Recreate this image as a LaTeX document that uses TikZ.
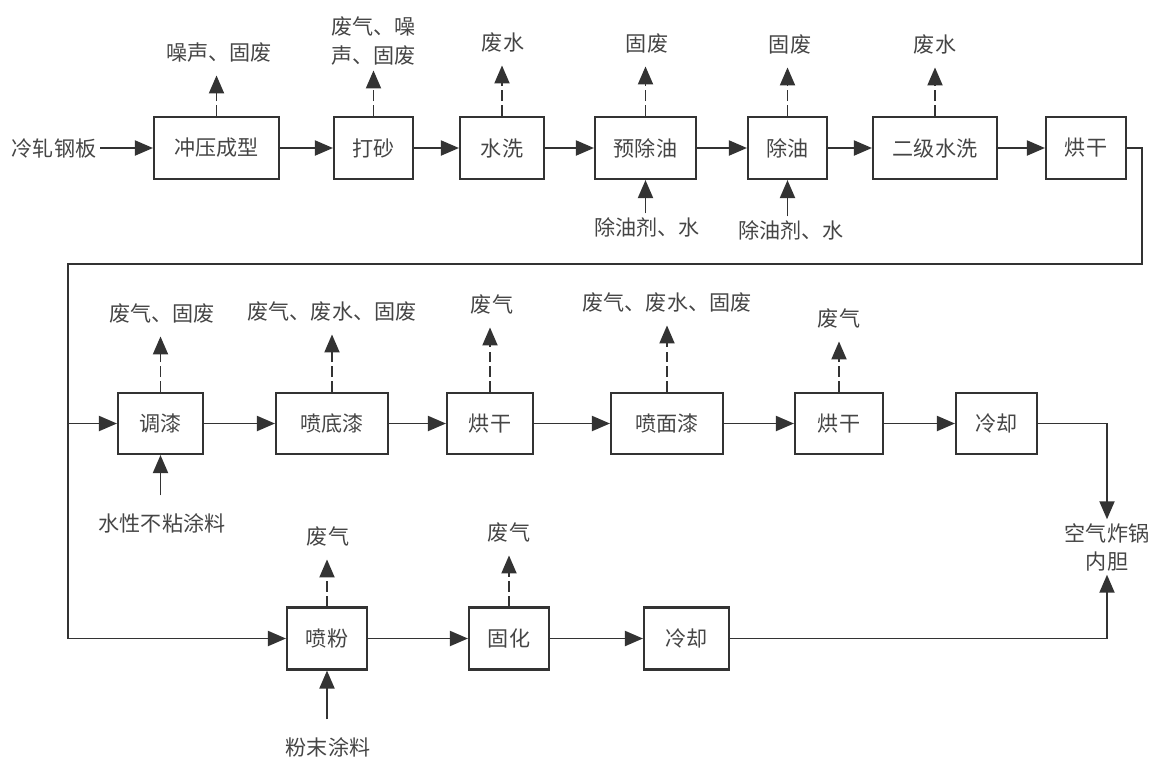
\documentclass[tikz,border=0pt]{standalone}
\usepackage{fontspec}
\setmainfont{Noto Sans CJK SC}
\usetikzlibrary{arrows.meta}
\definecolor{linec}{HTML}{333333}
\definecolor{txtc}{HTML}{454545}

\begin{document}
\begin{tikzpicture}[x=0.02cm,y=-0.02cm,
  font=\fontsize{12pt}{16pt}\selectfont,
  box/.style={draw=linec,line width=1.2pt,text=txtc,inner sep=2pt},
  row1/.style={box,minimum height=1.24cm},
  row2/.style={box,minimum height=1.22cm},
  lbl/.style={text=txtc,inner sep=2pt,align=center},
  flow/.style={draw=linec,line width=1.1pt,-{Triangle[length=0.36cm,width=0.3cm]}},
  waste/.style={flow,dash pattern=on 6pt off 2.5pt,shorten >=5pt},
  pipe/.style={draw=linec,line width=1.1pt}]
\useasboundingbox (0,0) rectangle (1150,758);

% row 1
\node[lbl] (steel) at (54,148) {冷轧钢板};
\node[row1,minimum width=2.5cm] (stamp) at (216.5,148) {冲压成型};
\node[row1,minimum width=1.58cm] (sand) at (373.5,148) {打砂};
\node[row1,minimum width=1.68cm] (wash) at (502,148) {水洗};
\node[row1,minimum width=2.02cm] (predeg) at (645.5,148) {预除油};
\node[row1,minimum width=1.58cm] (degr) at (787.5,148) {除油};
\node[row1,minimum width=2.48cm] (washb) at (935,148) {二级水洗};
\node[row1,minimum width=1.6cm] (dryA) at (1086,148) {烘干};
\draw[flow] (steel) -- (stamp);
\draw[flow] (stamp) -- (sand);
\draw[flow] (sand) -- (wash);
\draw[flow] (wash) -- (predeg);
\draw[flow] (predeg) -- (degr);
\draw[flow] (degr) -- (washb);
\draw[flow] (washb) -- (dryA);

\node[lbl] (stampOut) at (219,53) {噪声、固废};
\node[lbl,align=left] (sandOut) at (373.5,41) {废气、噪\\声、固废};
\node[lbl] (washOut) at (503,43) {废水};
\node[lbl] (predegOut) at (647,44) {固废};
\node[lbl] (degrOut) at (790,45) {固废};
\node[lbl] (washbOut) at (935,45) {废水};
\draw[waste] (stamp.north) -- (stamp.north |- stampOut.south);
\draw[waste,shorten >=1pt] (sand.north) -- (sand.north |- sandOut.south);
\draw[waste] (wash.north) -- (wash.north |- washOut.south);
\draw[waste] (predeg.north) -- (predeg.north |- predegOut.south);
\draw[waste] (degr.north) -- (degr.north |- degrOut.south);
\draw[waste] (washb.north) -- (washb.north |- washbOut.south);

\node[lbl] (predegIn) at (647,227) {除油剂、水};
\node[lbl] (degrIn) at (791,230) {除油剂、水};
\draw[flow] (predegIn.north -| predeg.south) -- (predeg.south);
\draw[flow] (degrIn.north -| degr.south) -- (degr.south);

% return line
\coordinate (rt) at (1142,264);
\coordinate (lt) at (68,264);
\coordinate (lb) at (68,638.5);
\draw[pipe] (dryA.east) -| (rt) -- (lt) -- (lb);

% row 2
\node[row2,minimum width=1.7cm] (mix) at (160.5,423.5) {调漆};
\node[row2,minimum width=2.24cm] (primer) at (332,423.5) {喷底漆};
\node[row2,minimum width=1.72cm] (dryB) at (490,423.5) {烘干};
\node[row2,minimum width=2.24cm] (topcoat) at (667,423.5) {喷面漆};
\node[row2,minimum width=1.76cm] (dryC) at (839,423.5) {烘干};
\node[row2,minimum width=1.62cm] (coolA) at (996.5,423.5) {冷却};
\draw[flow] (lt |- mix) -- (mix);
\draw[flow] (mix) -- (primer);
\draw[flow] (primer) -- (dryB);
\draw[flow] (dryB) -- (topcoat);
\draw[flow] (topcoat) -- (dryC);
\draw[flow] (dryC) -- (coolA);

\node[lbl] (mixOut) at (162,314) {废气、固废};
\node[lbl] (primerOut) at (332,312) {废气、废水、固废};
\node[lbl] (dryBOut) at (492,305) {废气};
\node[lbl] (topcoatOut) at (667,303) {废气、废水、固废};
\node[lbl] (dryCOut) at (839,319) {废气};
\draw[waste] (mix.north) -- (mix.north |- mixOut.south);
\draw[waste] (primer.north) -- (primer.north |- primerOut.south);
\draw[waste] (dryB.north) -- (dryB.north |- dryBOut.south);
\draw[waste] (topcoat.north) -- (topcoat.north |- topcoatOut.south);
\draw[waste] (dryC.north) -- (dryC.north |- dryCOut.south);

\node[lbl] (mixIn) at (162,523) {水性不粘涂料};
\draw[flow,shorten <=8pt] (mixIn.north -| mix.south) -- (mix.south);

% product
\node[lbl] (product) at (1107,547) {空气炸锅\\内胆};
\draw[flow] (coolA.east) -| (product.north);

% row 3
\node[row1,minimum width=1.6cm] (spray) at (327,638.5) {喷粉};
\node[row1,minimum width=1.6cm] (cure) at (509,638.5) {固化};
\node[row1,minimum width=1.7cm] (coolB) at (686.5,638.5) {冷却};
\draw[flow] (lb) -- (spray);
\draw[flow] (spray) -- (cure);
\draw[flow] (cure) -- (coolB);
\draw[flow] (coolB.east) -| (product.south);

\node[lbl] (sprayOut) at (328,537) {废气};
\node[lbl] (cureOut) at (509,533) {废气};
\draw[waste] (spray.north) -- (spray.north |- sprayOut.south);
\draw[waste] (cure.north) -- (cure.north |- cureOut.south);

\node[lbl] (sprayIn) at (328,747) {粉末涂料};
\draw[flow,shorten <=8pt] (sprayIn.north -| spray.south) -- (spray.south);
\end{tikzpicture}
\end{document}
